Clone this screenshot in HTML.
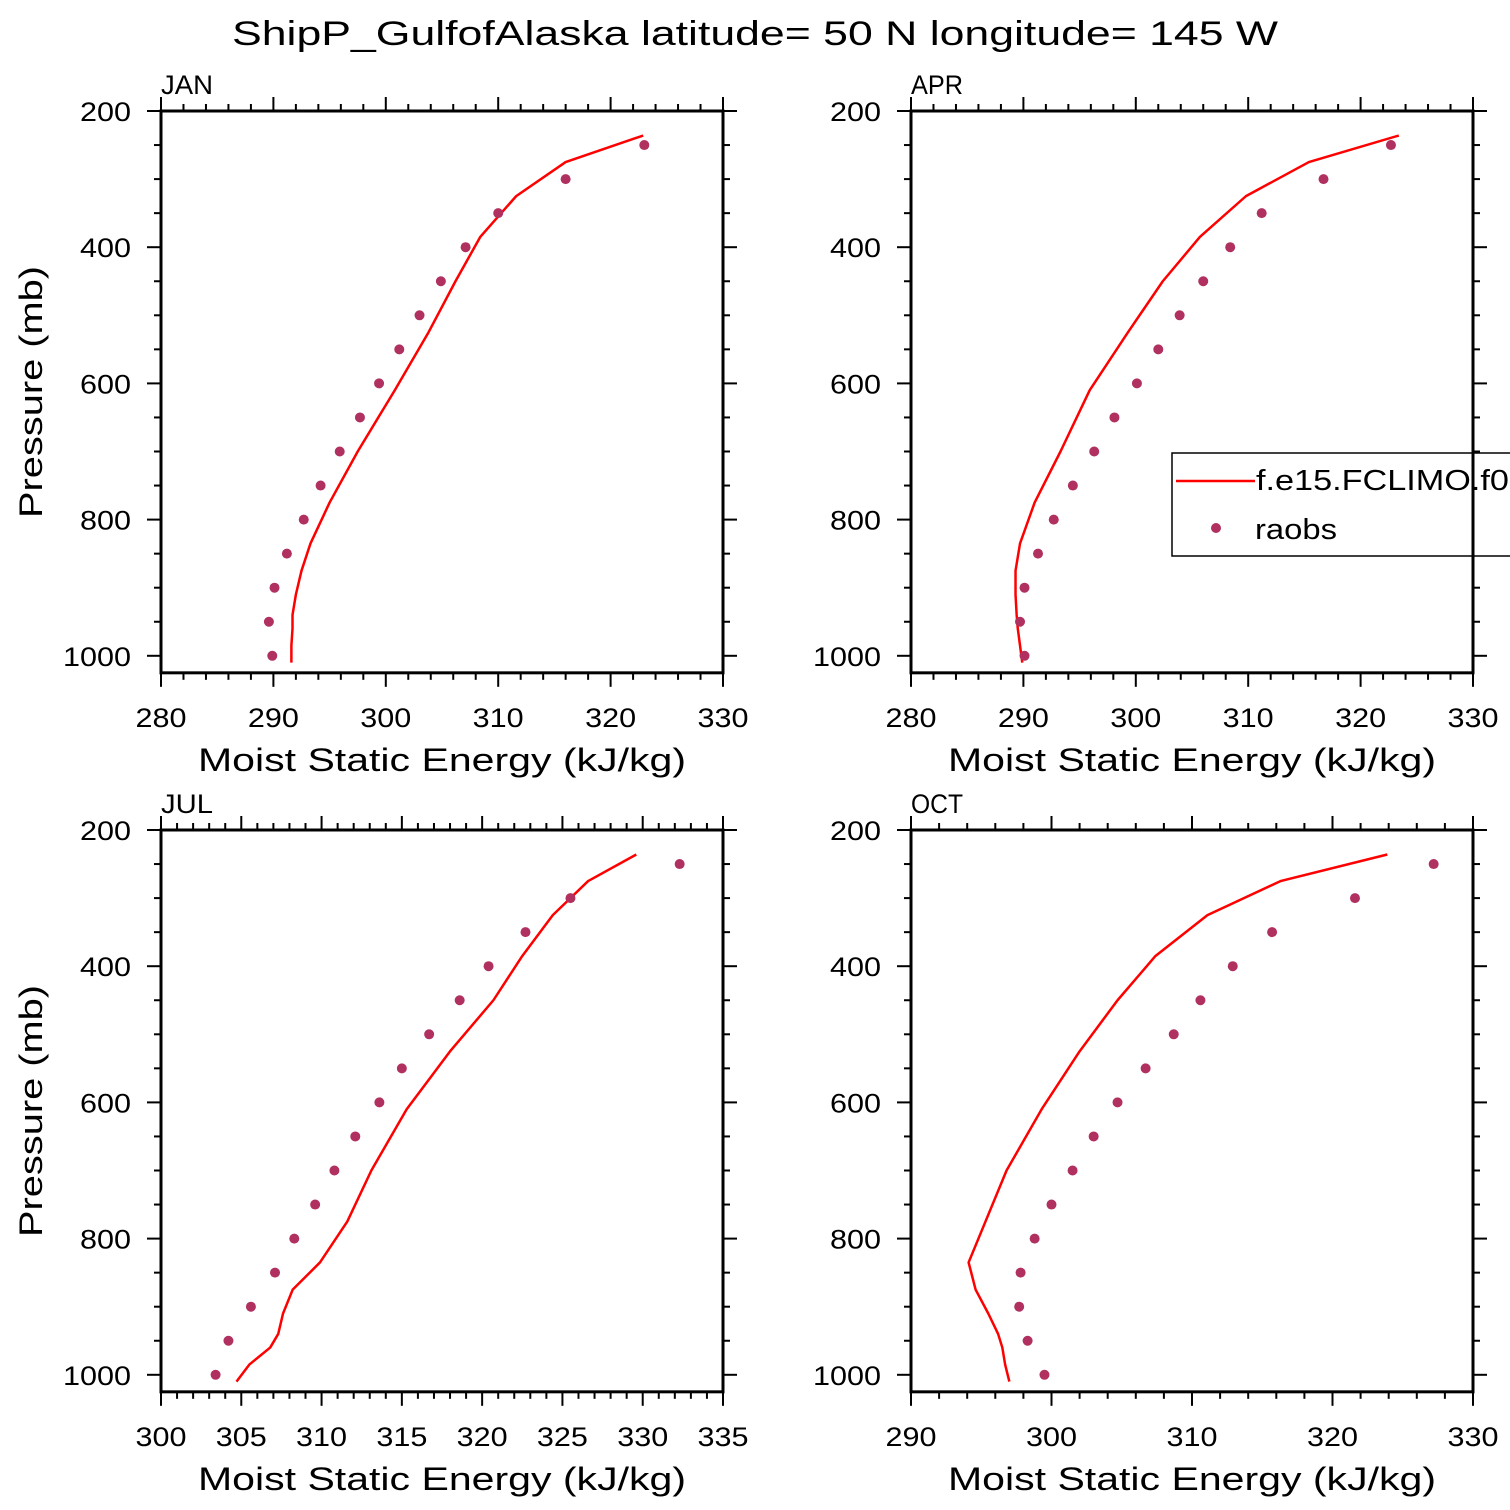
<!DOCTYPE html>
<html><head><meta charset="utf-8"><style>
html,body{margin:0;padding:0;background:#fff}
svg{display:block}
text{font-family:"Liberation Sans","DejaVu Sans",sans-serif;fill:#000}
</style></head><body>
<svg id="c" width="1510" height="1510" viewBox="0 0 1510 1510" xmlns="http://www.w3.org/2000/svg">
<text x="755" y="45" text-anchor="middle" font-size="34" textLength="1046" lengthAdjust="spacingAndGlyphs">ShipP_GulfofAlaska  latitude= 50 N longitude= 145 W</text>
</svg>
<script>
const modelP = [236,275,325,385,450,525,610,700,775,835,875,910,940,960,985,1010];
const obsP = [250,300,350,400,450,500,550,600,650,700,750,800,850,900,950,1000];
const janModel = [322.9,316.0,311.6,308.4,306.2,303.8,300.8,297.5,295.0,293.3,292.5,292.0,291.7,291.7,291.6,291.6];
const janObs = [323.0,316.0,310.0,307.1,304.9,303.0,301.2,299.4,297.7,295.9,294.2,292.7,291.2,290.1,289.6,289.9];
const aprModel = [323.4,315.4,309.8,305.7,302.4,299.3,295.9,293.3,291.0,289.7,289.3,289.3,289.4,289.5,289.7,289.9];
const aprObs = [322.7,316.7,311.2,308.4,306.0,303.9,302.0,300.1,298.1,296.3,294.4,292.7,291.3,290.1,289.7,290.1];
const julModel = [329.6,326.6,324.4,322.5,320.7,318.0,315.3,313.1,311.6,309.9,308.2,307.6,307.3,306.8,305.5,304.7];
const julObs = [332.3,325.5,322.7,320.4,318.6,316.7,315.0,313.6,312.1,310.8,309.6,308.3,307.1,305.6,304.2,303.4];
const octModel = [323.9,316.3,311.1,307.4,304.7,302.0,299.3,296.8,295.3,294.1,294.6,295.5,296.2,296.5,296.7,297.0];
const octObs = [327.2,321.6,315.7,312.9,310.6,308.7,306.7,304.7,303.0,301.5,300.0,298.8,297.8,297.7,298.3,299.5];
const yTicks = [200,400,600,800,1000];
const panels = [
 {name:'JAN',x0:161,y0:111,xmin:280,xmax:330,xt:[280,290,300,310,320,330],minor:2,m:janModel,o:janObs,ylab:true},
 {name:'APR',x0:911,y0:111,xmin:280,xmax:330,xt:[280,290,300,310,320,330],minor:2,m:aprModel,o:aprObs,ylab:false},
 {name:'JUL',x0:161,y0:830,xmin:300,xmax:335,xt:[300,305,310,315,320,325,330,335],minor:1,m:julModel,o:julObs,ylab:true},
 {name:'OCT',x0:911,y0:830,xmin:290,xmax:330,xt:[290,300,310,320,330],minor:2,m:octModel,o:octObs,ylab:false}
];
const NS='http://www.w3.org/2000/svg';
const svg=document.getElementById('c');
function mk(tag,attrs,parent,txt){const e=document.createElementNS(NS,tag);for(const k in attrs)e.setAttribute(k,attrs[k]);if(txt!==undefined)e.textContent=txt;(parent||svg).appendChild(e);return e;}
const W=562;
panels.forEach(P=>{
 const g=mk('g',{});
 
 
 const sx=v=>P.x0+(v-P.xmin)/(P.xmax-P.xmin)*W;
 const sy=p=>P.y0+(p-200)*0.681;
 const yb=sy(1025);
 for(let v=P.xmin;v<=P.xmax+1e-9;v+=P.minor){
  const maj=P.xt.some(t=>Math.abs(t-v)<1e-9);const L=maj?14:7;const x=sx(v);
  mk('line',{x1:x,x2:x,y1:P.y0,y2:P.y0-L,stroke:'#000','stroke-width':2},g);
  mk('line',{x1:x,x2:x,y1:yb,y2:yb+L,stroke:'#000','stroke-width':2},g);
 }
 for(let p=200;p<=1000;p+=50){
  const maj=yTicks.includes(p);const L=maj?14:7;const y=sy(p);
  mk('line',{x1:P.x0,x2:P.x0-L,y1:y,y2:y,stroke:'#000','stroke-width':2},g);
  mk('line',{x1:P.x0+W,x2:P.x0+W+L,y1:y,y2:y,stroke:'#000','stroke-width':2},g);
 }
 P.xt.forEach(v=>{const s=String(v);const t=mk('text',{x:sx(v),y:yb+54,'text-anchor':'middle','font-size':27,textLength:s.length*17,lengthAdjust:'spacingAndGlyphs'},g,s);
  });
 yTicks.forEach(p=>{const s=String(p);const t=mk('text',{x:P.x0-30,y:sy(p)+10,'text-anchor':'end','font-size':27,textLength:s.length*17,lengthAdjust:'spacingAndGlyphs'},g,s);
  });
 const pt=mk('text',{x:P.x0,y:P.y0-17,'font-size':27,textLength:52,lengthAdjust:'spacingAndGlyphs'},g,P.name);
 
 const xt=mk('text',{x:P.x0+W/2,y:P.y0+660,'text-anchor':'middle','font-size':32,textLength:488,lengthAdjust:'spacingAndGlyphs'},g,'Moist Static Energy (kJ/kg)');
 
 if(P.ylab){const yy=P.y0+281;const t=mk('text',{x:42,y:yy,'text-anchor':'middle','font-size':32,textLength:252,lengthAdjust:'spacingAndGlyphs',transform:'rotate(-90 42 '+yy+')'},g,'Pressure (mb)');
  }
 const ln=mk('polyline',{points:P.m.map((v,i)=>sx(v)+','+sy(modelP[i])).join(' '),fill:'none',stroke:'#ff0000','stroke-width':2.5,'stroke-linejoin':'round'},g);
 
 P.o.forEach((v,i)=>{const c=mk('circle',{cx:sx(v),cy:sy(obsP[i]),r:5,fill:'#b03060'},g);
  });
 if(P.name==='APR'){
  const lg=mk('g',{},g);
  
  mk('rect',{x:1172,y:453,width:400,height:103,fill:'#fff',stroke:'#000','stroke-width':1.5},lg);
  mk('line',{x1:1176,x2:1255,y1:481,y2:481,stroke:'#ff0000','stroke-width':2.5},lg);
  const e1=mk('text',{x:1256,y:490,'font-size':29,textLength:272,lengthAdjust:'spacingAndGlyphs'},lg,'f.e15.FCLIMO.f09');
  
  mk('circle',{cx:1216,cy:528,r:5,fill:'#b03060'},lg);
  const e2=mk('text',{x:1255,y:539,'font-size':29,textLength:82,lengthAdjust:'spacingAndGlyphs'},lg,'raobs');
  
 }
 const fr=mk('rect',{x:P.x0,y:P.y0,width:W,height:yb-P.y0,fill:'none',stroke:'#000','stroke-width':3},g);
 
});
</script>
</body></html>
